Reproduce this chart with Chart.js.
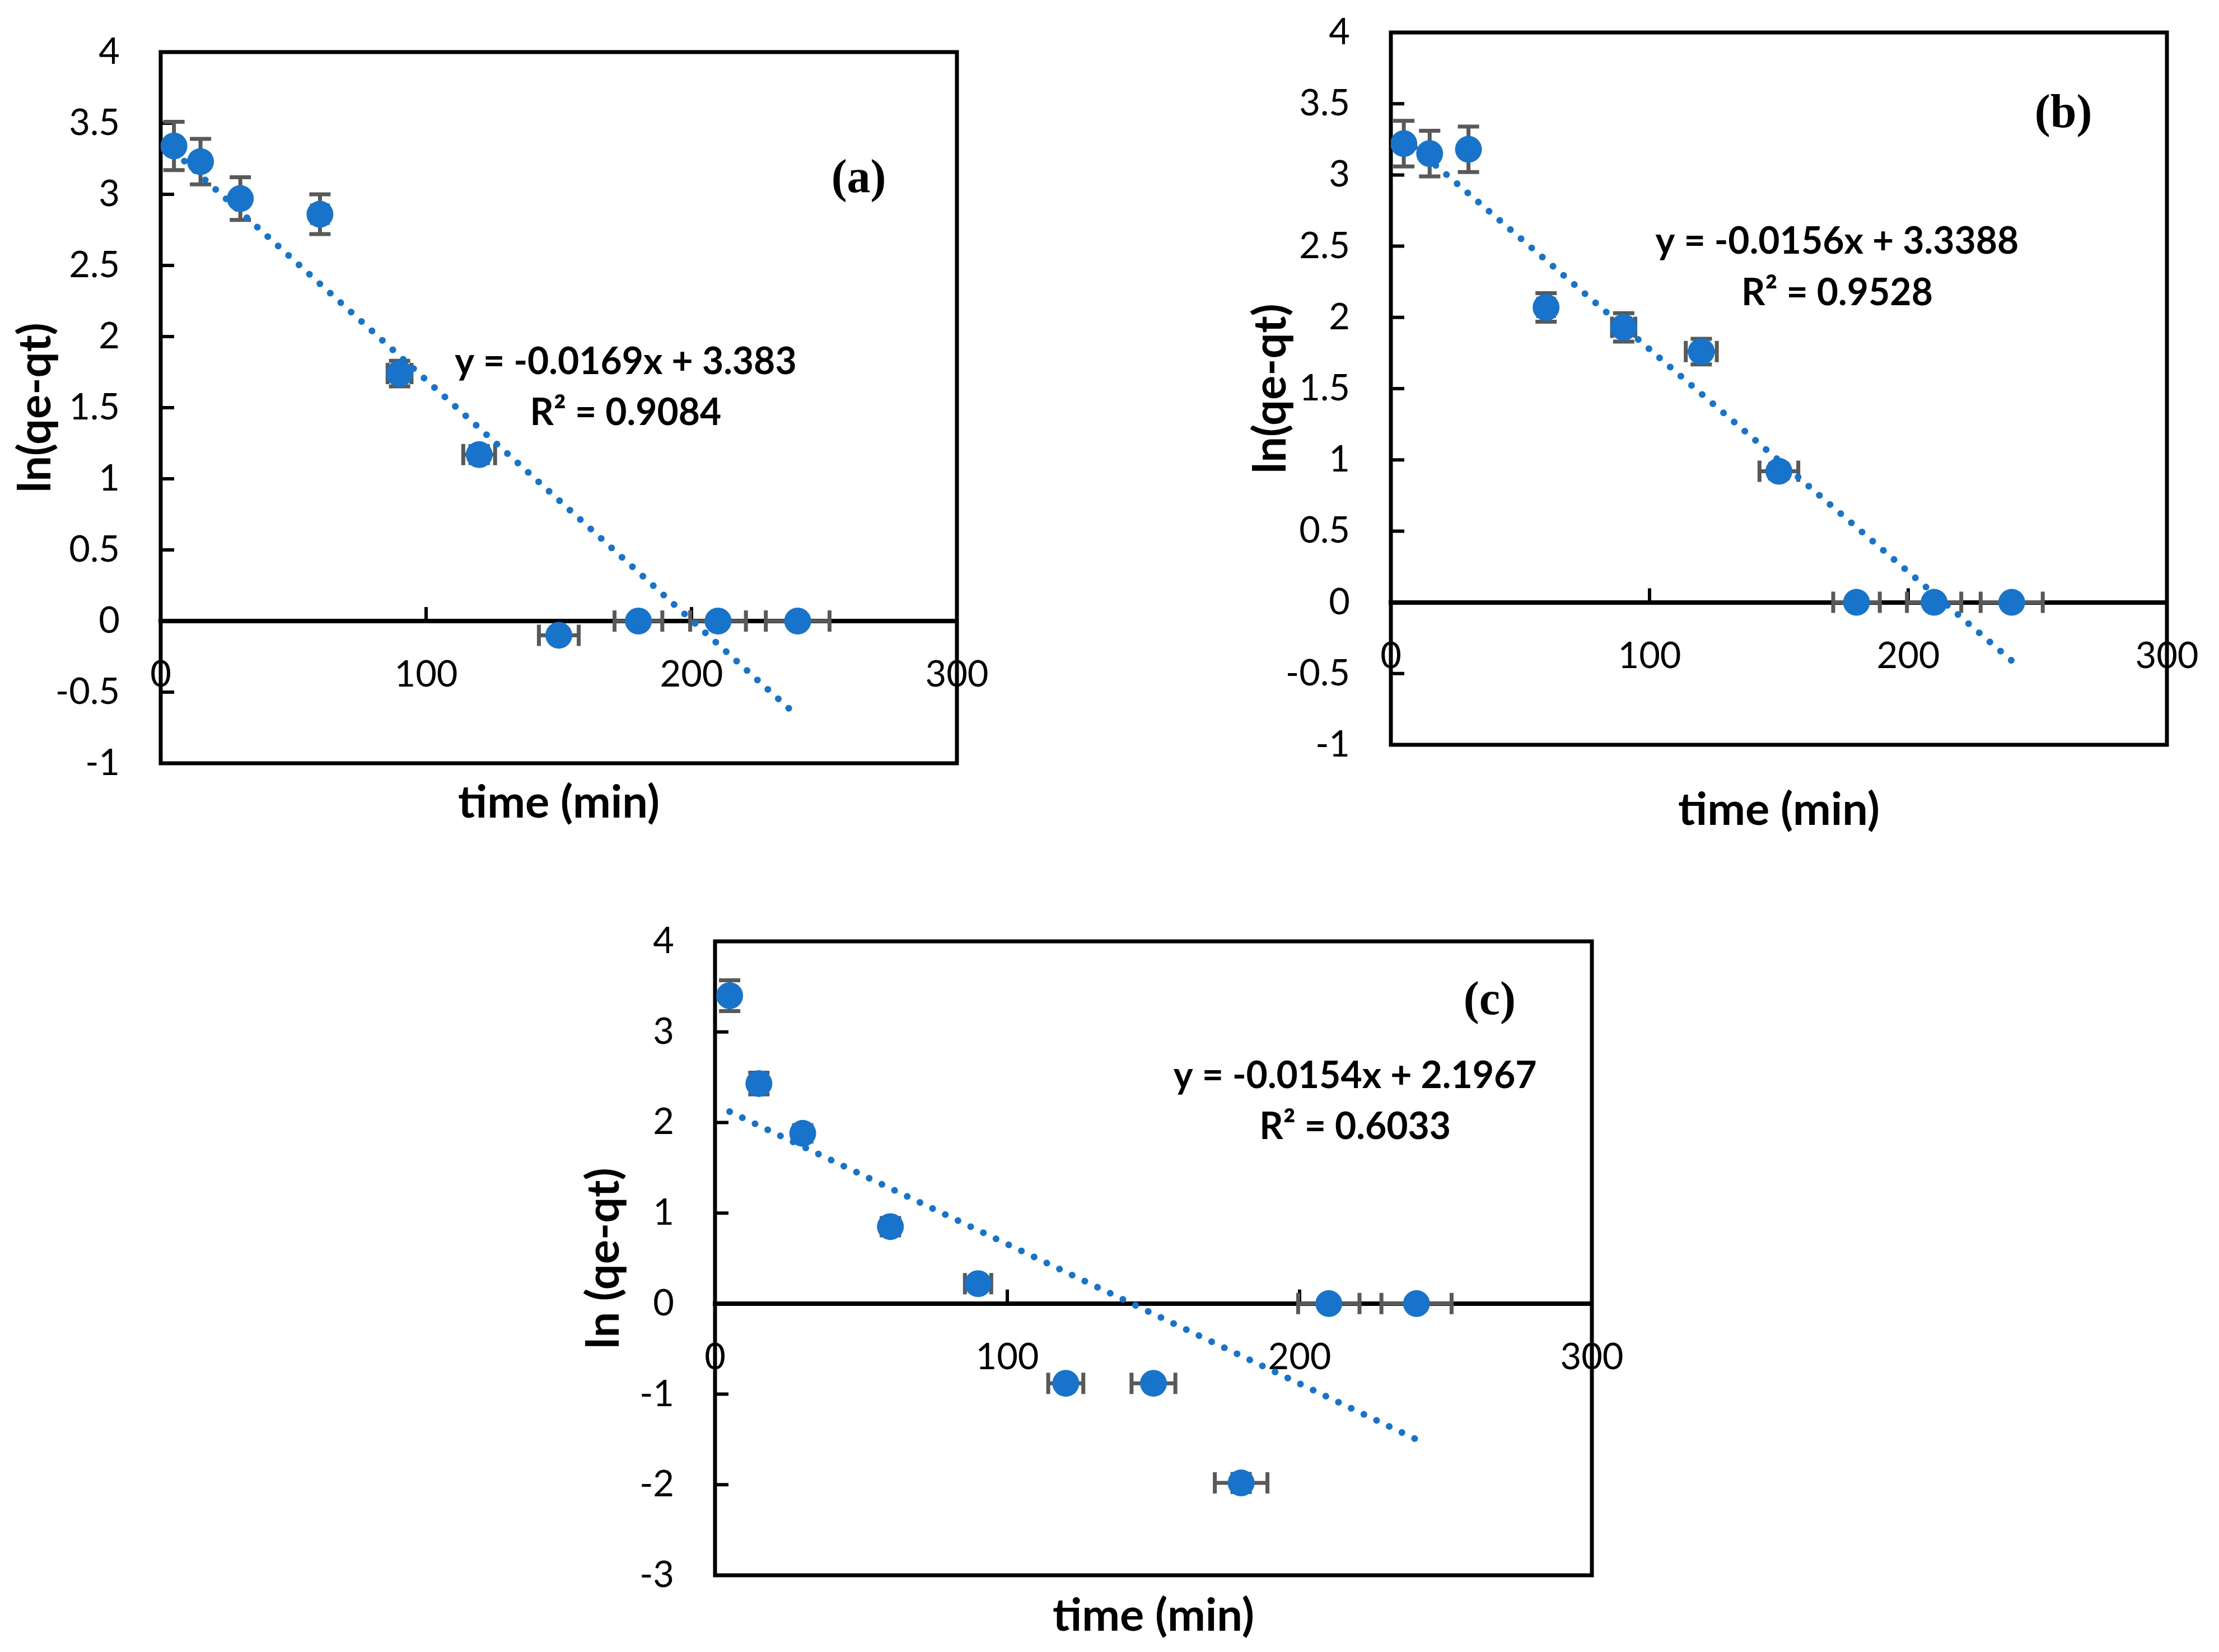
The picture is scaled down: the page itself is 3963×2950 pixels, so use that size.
<!DOCTYPE html>
<html>
<head>
<meta charset="utf-8">
<script src="https://cdn.jsdelivr.net/npm/chart.js@4.4.0/dist/chart.umd.min.js"></script>
<style>
  html, body { margin: 0; padding: 0; background: #fff; overflow: hidden; }
  #wrap { position: relative; width: 3963px; height: 2950px; }
  #wrap canvas { position: absolute; left: 0; top: 0; }
</style>
</head>
<body>
<div id="wrap">
  <canvas id="panelA" width="3963" height="2950"></canvas>
  <canvas id="panelB" width="3963" height="2950"></canvas>
  <canvas id="panelC" width="3963" height="2950"></canvas>
</div>

<script>
  // shared time axis (min) and its 5% error bars
  const time = [5, 15, 30, 60, 90, 120, 150, 180, 210, 240];
  const timeErr = [0.25, 0.75, 1.5, 3, 4.5, 6, 7.5, 9, 10.5, 12];

  // ln(qe-qt) values
  const lnA = [3.34, 3.23, 2.97, 2.86, 1.74, 1.17, -0.10, 0, 0, 0];
  const lnAErr = [0.17, 0.16, 0.15, 0.14, 0.09, 0.06, 0.005, 0, 0, 0];
  const lnB = [3.22, 3.15, 3.18, 2.07, 1.93, 1.76, 0.92, 0, 0, 0];
  const lnBErr = [0.16, 0.16, 0.16, 0.10, 0.10, 0.09, 0.05, 0, 0, 0];
  const lnC = [3.40, 2.43, 1.88, 0.85, 0.22, -0.88, -0.88, -1.98, 0, 0];
  const lnCErr = [0.17, 0.12, 0.09, 0.04, 0.01, 0.04, 0.04, 0.10, 0, 0];

  // linear trendline end points (Excel draws them over the data range)
  const trendX = [5, 240];
  const trendA = [3.30, -0.67];
  const trendB = [3.26, -0.41];
  const trendC = [2.12, -1.50];

  const eqA = ['y = -0.0169x + 3.383', 'R\u00b2 = 0.9084'];
  const eqB = ['y = -0.0156x + 3.3388', 'R\u00b2 = 0.9528'];
  const eqC = ['y = -0.0154x + 2.1967', 'R\u00b2 = 0.6033'];

  const BLUE = '#1874CA';
  const BAR = '#595959';
  const W = 3963, H = 2950;
  const TITLE_SIZE = 81;

  Chart.defaults.font.family = 'Lato';
  Chart.defaults.color = '#000';

  function decor(p) {
    return {
      id: 'decor',
      beforeDatasetsDraw(chart) {
        const {ctx, chartArea: a, scales: {x, y}} = chart;
        ctx.save();
        ctx.strokeStyle = '#000';
        ctx.lineWidth = 7;
        ctx.strokeRect(a.left, a.top, a.right - a.left, a.bottom - a.top);

        // tick marks: inward on the y axis, upward on the zero line
        ctx.lineWidth = 6;
        ctx.beginPath();
        y.ticks.forEach(t => {
          const py = y.getPixelForValue(t.value);
          ctx.moveTo(a.left, py); ctx.lineTo(a.left + 24, py);
        });
        const zy = y.getPixelForValue(0);
        x.ticks.forEach(t => {
          const px = x.getPixelForValue(t.value);
          ctx.moveTo(px, zy); ctx.lineTo(px, zy - 25);
        });
        ctx.stroke();

        // error bars
        ctx.strokeStyle = BAR;
        ctx.lineWidth = 7;
        ctx.beginPath();
        time.forEach((t, i) => {
          const v = p.ys[i];
          const px = x.getPixelForValue(t), py = y.getPixelForValue(v);
          const y1 = y.getPixelForValue(v - p.yErr[i]), y2 = y.getPixelForValue(v + p.yErr[i]);
          ctx.moveTo(px, y1); ctx.lineTo(px, y2);
          ctx.moveTo(px - 19, y1); ctx.lineTo(px + 19, y1);
          ctx.moveTo(px - 19, y2); ctx.lineTo(px + 19, y2);
          const x1 = x.getPixelForValue(t - timeErr[i]), x2 = x.getPixelForValue(t + timeErr[i]);
          ctx.moveTo(x1, py); ctx.lineTo(x2, py);
          ctx.moveTo(x1, py - 19); ctx.lineTo(x1, py + 19);
          ctx.moveTo(x2, py - 19); ctx.lineTo(x2, py + 19);
        });
        ctx.stroke();
        ctx.restore();
      },
      afterDatasetsDraw(chart) {
        const {ctx, scales: {x, y}} = chart;
        ctx.save();
        ctx.fillStyle = '#000';
        ctx.textAlign = 'center';
        ctx.textBaseline = 'middle';
        ctx.font = 'bold 66px Lato';
        ctx.fillText(p.eq[0], x.getPixelForValue(p.eqAt[0]), y.getPixelForValue(p.eqAt[1]));
        ctx.fillText(p.eq[1], x.getPixelForValue(p.eqAt[0]), y.getPixelForValue(p.eqAt[2]));
        ctx.font = 'bold 84px "Liberation Serif"';
        ctx.fillText(p.tag, x.getPixelForValue(p.tagAt[0]), y.getPixelForValue(p.tagAt[1]));
        ctx.restore();
      }
    };
  }

  // label padding must not push the plot area around
  function noPadding(s) {
    s.paddingTop = 0; s.paddingBottom = 0; s.paddingLeft = 0; s.paddingRight = 0;
  }

  function makePanel(id, p) {
    const box = p.box; // plot area: left, top, right, bottom
    const titleHalf = TITLE_SIZE * 1.2 / 2;
    const padLeft = p.yTitleX - titleHalf;
    const xAxisH = p.xTitleY - box.bottom + titleHalf;

    new Chart(document.getElementById(id), {
      type: 'scatter',
      data: {
        datasets: [
          {
            data: time.map((t, i) => ({x: t, y: p.ys[i]})),
            pointRadius: 24,
            pointHoverRadius: 24,
            pointBackgroundColor: BLUE,
            pointBorderWidth: 0,
            order: 1
          },
          {
            data: trendX.map((t, i) => ({x: t, y: p.trend[i]})),
            showLine: true,
            pointRadius: 0,
            borderColor: BLUE,
            borderWidth: 12,
            borderDash: [0.1, 25],
            borderCapStyle: 'round',
            fill: false,
            order: 0
          }
        ]
      },
      options: {
        responsive: false,
        devicePixelRatio: 1,
        animation: false,
        events: [],
        layout: {
          padding: {left: padLeft, top: box.top, right: W - box.right, bottom: H - box.bottom - xAxisH}
        },
        plugins: {legend: {display: false}, tooltip: {enabled: false}},
        scales: {
          x: {
            type: 'linear',
            position: {y: 0},
            min: 0, max: 300,
            ticks: {stepSize: 100, padding: 57, font: {size: 65}, color: '#000', callback: v => String(v)},
            grid: {display: false, drawTicks: false},
            border: {display: true, color: '#000', width: 8},
            afterFit: noPadding
          },
          x2: {
            type: 'linear',
            axis: 'x',
            position: 'bottom',
            min: 0, max: 300,
            ticks: {display: false},
            grid: {display: false, drawTicks: false},
            border: {display: false},
            title: {display: true, text: 'time (min)', font: {size: TITLE_SIZE, weight: 'bold'}, padding: 0, color: '#000'},
            afterFit(s) { noPadding(s); s.height = xAxisH; }
          },
          y: {
            type: 'linear',
            min: p.yMin, max: p.yMax,
            ticks: {stepSize: p.yStep, padding: 73, font: {size: 65}, color: '#000', callback: v => String(v)},
            grid: {display: false, drawTicks: false},
            border: {display: false},
            title: {display: true, text: p.yTitle, font: {size: TITLE_SIZE, weight: 'bold'}, padding: 0, color: '#000'},
            afterFit(s) { noPadding(s); s.width = box.left - padLeft; }
          }
        }
      },
      plugins: [decor(p)]
    });
  }

  makePanel('panelA', {
    box: {left: 287, top: 93, right: 1709, bottom: 1363},
    yTitleX: 64, xTitleY: 1434,
    yMin: -1, yMax: 4, yStep: 0.5, yTitle: 'ln(qe-qt)',
    ys: lnA, yErr: lnAErr, trend: trendA,
    eq: eqA, eqAt: [175.2, 1.82, 1.46], tag: '(a)', tagAt: [263, 3.10]
  });

  makePanel('panelB', {
    box: {left: 2484, top: 58, right: 3870, bottom: 1330},
    yTitleX: 2270, xTitleY: 1447,
    yMin: -1, yMax: 4, yStep: 0.5, yTitle: 'ln(qe-qt)',
    ys: lnB, yErr: lnBErr, trend: trendB,
    eq: eqB, eqAt: [172.5, 2.53, 2.17], tag: '(b)', tagAt: [260, 3.42]
  });

  makePanel('panelC', {
    box: {left: 1277, top: 1681, right: 2843, bottom: 2813},
    yTitleX: 1079, xTitleY: 2886,
    yMin: -3, yMax: 4, yStep: 1, yTitle: 'ln (qe-qt)',
    ys: lnC, yErr: lnCErr, trend: trendC,
    eq: eqC, eqAt: [219, 2.51, 1.95], tag: '(c)', tagAt: [265, 3.33]
  });
</script>
</body>
</html>
